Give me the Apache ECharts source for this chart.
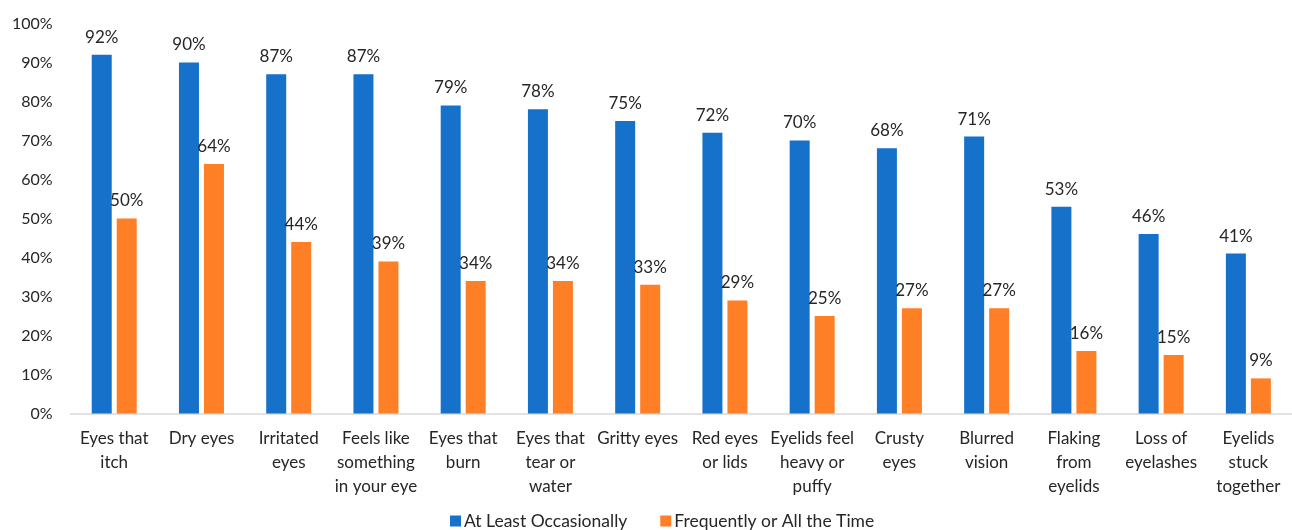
<!DOCTYPE html>
<html>
<head>
<meta charset="utf-8">
<script src="https://cdn.jsdelivr.net/npm/echarts@6/dist/echarts.min.js"></script>
<style>
html,body{margin:0;padding:0;background:#fff;}
#chart{width:1292px;height:530px;}
</style>
</head>
<body>
<div id="chart"></div>
<script>
const categories = [
  'Eyes that\nitch', 'Dry eyes', 'Irritated\neyes', 'Feels like\nsomething\nin your eye',
  'Eyes that\nburn', 'Eyes that\ntear or\nwater', 'Gritty eyes', 'Red eyes\nor lids',
  'Eyelids feel\nheavy or\npuffy', 'Crusty\neyes', 'Blurred\nvision', 'Flaking\nfrom\neyelids',
  'Loss of\neyelashes', 'Eyelids\nstuck\ntogether'
];
const seriesNames = ['At Least Occasionally', 'Frequently or All the Time'];
const atLeastOccasionally = [92, 90, 87, 87, 79, 78, 75, 72, 70, 68, 71, 53, 46, 41];
const frequentlyOrAllTime = [50, 64, 44, 39, 34, 34, 33, 29, 25, 27, 27, 16, 15, 9];
const yTicks = { min: 0, max: 100, interval: 10 };

const FONT = 'Lato';
const TXT = '#262626';
const chart = echarts.init(document.getElementById('chart'));
const labelStyle = {
  show: true, position: 'top', distance: 9,
  formatter: '{c}%', fontFamily: FONT, fontSize: 17, color: TXT
};
chart.setOption({
  animation: false,
  color: ['#1571C9', '#FF7F27'],
  textStyle: { fontFamily: FONT },
  grid: { left: 70.6, right: -7, top: 23.5, bottom: 116.5, containLabel: false },
  legend: {
    top: 507, left: 445, padding: [5, 5, 5, 5],
    itemWidth: 11, itemHeight: 11, itemGap: 33, icon: 'rect',
    textStyle: { fontFamily: FONT, fontSize: 17.5, color: TXT, padding: [0, 0, 0, -2] },
    data: seriesNames
  },
  xAxis: {
    type: 'category', data: categories,
    axisLine: { lineStyle: { color: '#D9D9D9', width: 1.5 } },
    axisTick: { show: false },
    axisLabel: { interval: 0, margin: 13, fontFamily: FONT, fontSize: 17, color: TXT, lineHeight: 24 }
  },
  yAxis: {
    type: 'value', min: yTicks.min, max: yTicks.max, interval: yTicks.interval,
    splitLine: { show: false },
    axisLine: { show: false }, axisTick: { show: false },
    axisLabel: { formatter: '{value}%', margin: 18, fontFamily: FONT, fontSize: 16, color: TXT }
  },
  series: [
    { name: seriesNames[0], type: 'bar', data: atLeastOccasionally, barWidth: 20, barGap: '25%', label: labelStyle },
    { name: seriesNames[1], type: 'bar', data: frequentlyOrAllTime, barWidth: 20, barGap: '25%', label: labelStyle }
  ]
});
</script>
</body>
</html>
